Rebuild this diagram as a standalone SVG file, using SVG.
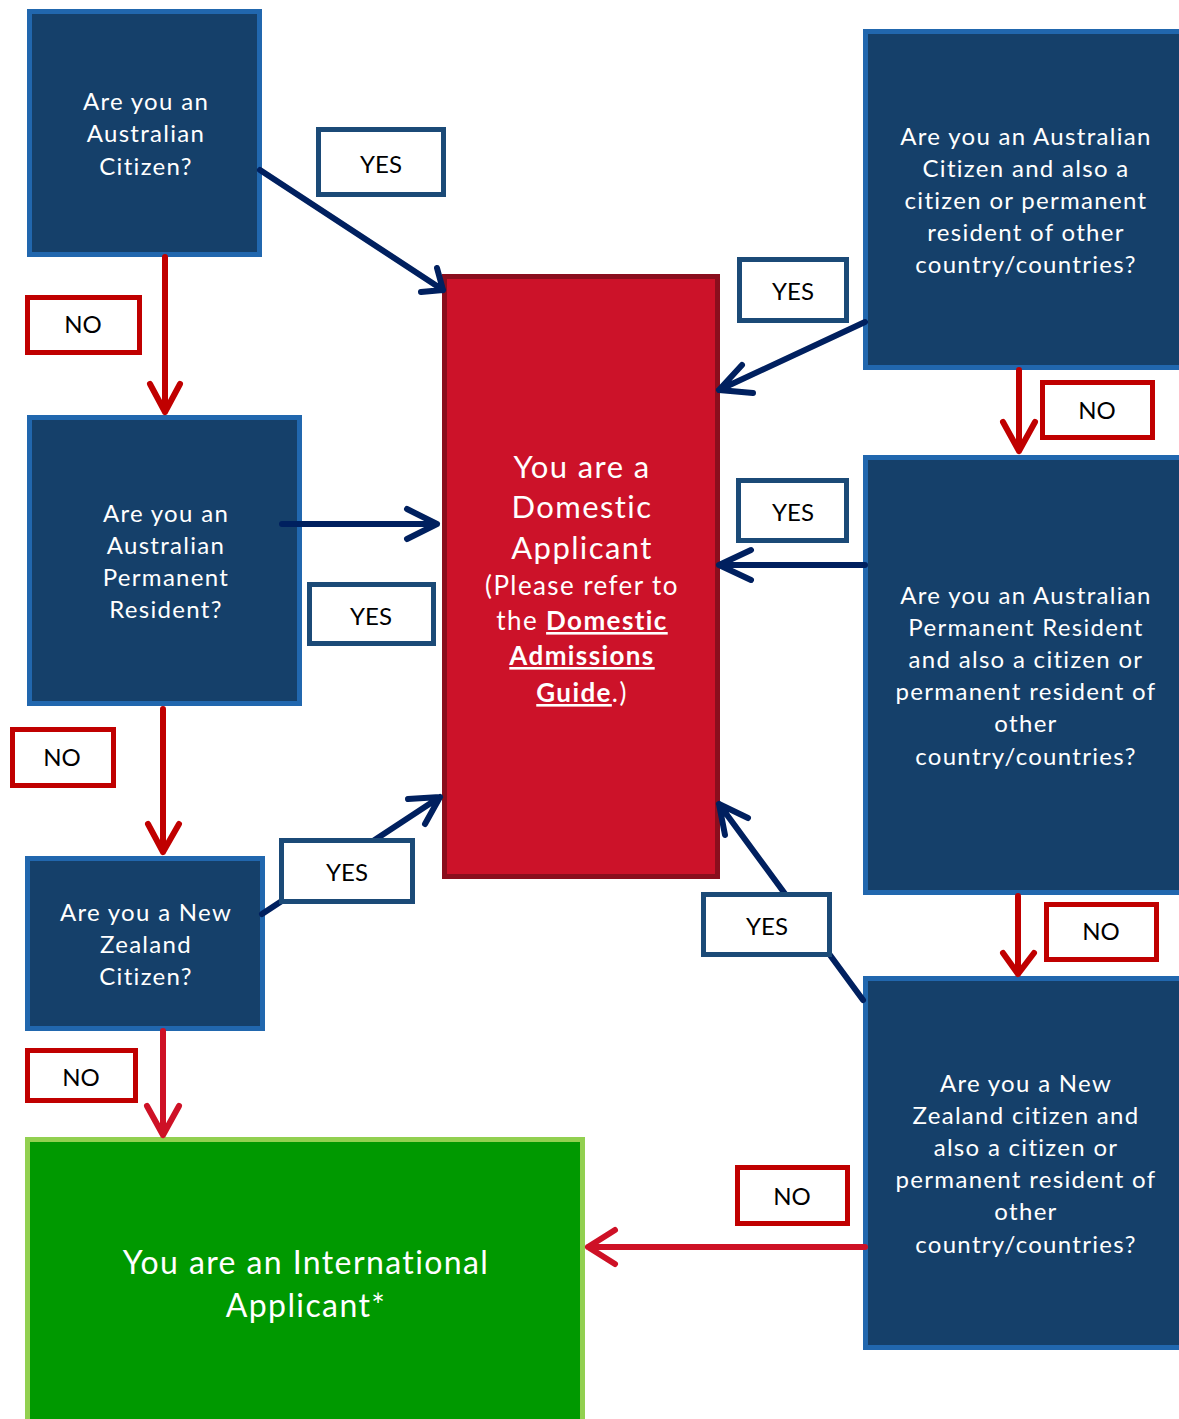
<svg xmlns="http://www.w3.org/2000/svg" width="1179" height="1419" viewBox="0 0 1179 1419">
<style>
.q{fill:#15406A;stroke:#2167AE;stroke-width:5}
.qt{fill:#fff;font-family:Lato,"Noto Sans",sans-serif;font-size:24px;text-anchor:middle;letter-spacing:1.3px}
.yes{fill:#fff;stroke:#1B4A77;stroke-width:5}
.no{fill:#fff;stroke:#C00000;stroke-width:5}
.lt{fill:#000;font-family:Lato,"Noto Sans",sans-serif;font-size:24px;text-anchor:middle}
.nv{fill:none;stroke:#00205F;stroke-width:6;stroke-linecap:round;stroke-linejoin:round}
.rd{fill:none;stroke:#C00000;stroke-width:6;stroke-linecap:round;stroke-linejoin:round}
.cr{fill:none;stroke:#CE1126;stroke-width:6;stroke-linecap:round;stroke-linejoin:round}
.big{fill:#fff;font-family:Lato,"Noto Sans",sans-serif;text-anchor:middle;letter-spacing:1.4px}
</style>
<rect width="1179" height="1419" fill="#fff"/>
<g id="n-aus-citizen"><rect class="q" x="29.5" y="11.5" width="230" height="243"/>
<text class="qt" x="146" y="110">Are you an</text><text class="qt" x="146" y="142">Australian</text><text class="qt" x="146" y="175">Citizen?</text></g>
<g id="n-aus-pr"><rect class="q" x="29.5" y="417.5" width="270" height="286"/>
<text class="qt" x="166" y="522">Are you an</text><text class="qt" x="166" y="554">Australian</text><text class="qt" x="166" y="586">Permanent</text><text class="qt" x="166" y="618">Resident?</text></g>
<g id="n-nz"><rect class="q" x="27.5" y="858.5" width="235" height="170"/>
<text class="qt" x="146" y="921">Are you a New</text><text class="qt" x="146" y="953">Zealand</text><text class="qt" x="146" y="985">Citizen?</text></g>
<g id="n-domestic"><rect x="444.5" y="276.5" width="273" height="600" fill="#CC1229" stroke="#8A0E1D" stroke-width="5"/>
<text class="big" x="582" y="478" font-size="31">You are a</text>
<text class="big" x="582" y="518" font-size="31">Domestic</text>
<text class="big" x="582" y="559" font-size="31">Applicant</text>
<text class="big" x="582" y="595" font-size="26">(Please refer to</text>
<text class="big" x="582" y="630" font-size="26">the <tspan font-weight="bold" text-decoration="underline">Domestic</tspan></text>
<text class="big" x="582" y="665" font-size="26" font-weight="bold" text-decoration="underline">Admissions</text>
<text class="big" x="582" y="702" font-size="26"><tspan font-weight="bold" text-decoration="underline">Guide</tspan>.)</text></g>
<g id="n-international"><rect x="27.5" y="1139.5" width="555" height="290" fill="#009900" stroke="#92D050" stroke-width="5"/>
<text class="big" x="306" y="1274" font-size="32" letter-spacing="0.8">You are an International</text>
<text class="big" x="306" y="1317" font-size="32" letter-spacing="0.8">Applicant*</text></g>
<g id="n-aus-dual"><rect class="q" x="865.5" y="31.5" width="320" height="336"/>
<text class="qt" x="1026" y="145">Are you an Australian</text><text class="qt" x="1026" y="177">Citizen and also a</text><text class="qt" x="1026" y="209">citizen or permanent</text><text class="qt" x="1026" y="241">resident of other</text><text class="qt" x="1026" y="273">country/countries?</text></g>
<g id="n-pr-dual"><rect class="q" x="865.5" y="457.5" width="320" height="435"/>
<text class="qt" x="1026" y="604">Are you an Australian</text><text class="qt" x="1026" y="636">Permanent Resident</text><text class="qt" x="1026" y="668">and also a citizen or</text><text class="qt" x="1026" y="700">permanent resident of</text><text class="qt" x="1026" y="732">other</text><text class="qt" x="1026" y="765">country/countries?</text></g>
<g id="n-nz-dual"><rect class="q" x="865.5" y="978.5" width="320" height="369"/>
<text class="qt" x="1026" y="1092">Are you a New</text><text class="qt" x="1026" y="1124">Zealand citizen and</text><text class="qt" x="1026" y="1156">also a citizen or</text><text class="qt" x="1026" y="1188">permanent resident of</text><text class="qt" x="1026" y="1220">other</text><text class="qt" x="1026" y="1253">country/countries?</text></g>
<g id="connectors">
<path class="nv" d="M260,170 L443,290 M421,292 L443,290 L437,268"/>
<path class="rd" d="M165,257 V412 M150,384 L165,412 L180,384"/>
<path class="nv" d="M282,524 H437 M407,509 L437,524 L407,539"/>
<path class="rd" d="M163,709 V852 M148,824 L163,852 L179,824"/>
<path class="nv" d="M262,914 L440,797 M408,799 L440,797 L425,824"/>
<path class="cr" d="M163,1031 V1135 M147,1106 L163,1135 L179,1106"/>
<path class="nv" d="M865,322 L719,390 M742,365 L719,390 L753,393"/>
<path class="rd" d="M1019,370 V451 M1003,422 L1019,451 L1035,422"/>
<path class="nv" d="M865,565 H719 M751,550 L719,565 L751,580"/>
<path class="rd" d="M1018,896 V974 M1003,953 L1018,974 L1034,953"/>
<path class="nv" d="M863,1000 L719,804 M725,835 L719,804 L748,818"/>
<path class="cr" d="M865,1247 H588 M615,1230 L588,1247 L615,1264"/>
</g>
<g id="labels">
<rect class="yes" x="318.5" y="129.5" width="125" height="65"/><text class="lt" x="381" y="173">YES</text>
<rect class="no" x="27.5" y="297.5" width="112" height="55"/><text class="lt" x="83" y="333">NO</text>
<rect class="yes" x="309.5" y="584.5" width="124" height="59"/><text class="lt" x="371" y="625">YES</text>
<rect class="no" x="12.5" y="729.5" width="101" height="56"/><text class="lt" x="62" y="766">NO</text>
<rect class="yes" x="281.5" y="840.5" width="131" height="61"/><text class="lt" x="347" y="881">YES</text>
<rect class="no" x="27.5" y="1050.5" width="108" height="50"/><text class="lt" x="81" y="1086">NO</text>
<rect class="yes" x="739.5" y="259.5" width="107" height="61"/><text class="lt" x="793" y="300">YES</text>
<rect class="no" x="1042.5" y="382.5" width="110" height="55"/><text class="lt" x="1097" y="419">NO</text>
<rect class="yes" x="738.5" y="480.5" width="108" height="60"/><text class="lt" x="793" y="521">YES</text>
<rect class="no" x="1046.5" y="904.5" width="110" height="55"/><text class="lt" x="1101" y="940">NO</text>
<rect class="yes" x="703.5" y="894.5" width="126" height="60"/><text class="lt" x="767" y="935">YES</text>
<rect class="no" x="737.5" y="1167.5" width="110" height="56"/><text class="lt" x="792" y="1205">NO</text>
</g>
</svg>
